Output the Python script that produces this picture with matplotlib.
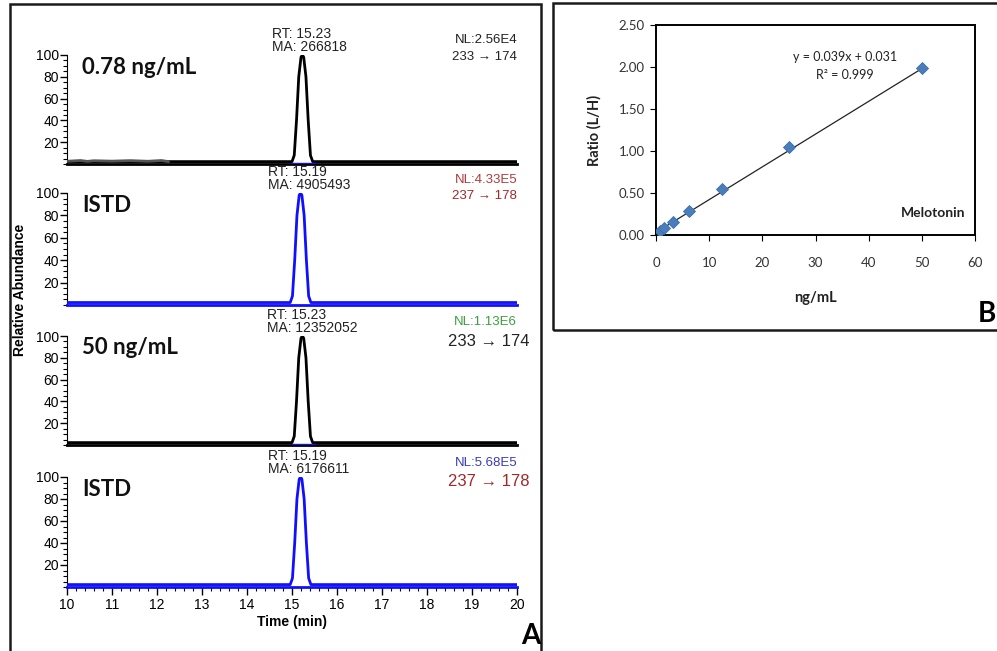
"""Melatonin LC-MS/MS chromatograms (A) and calibration curve (B)."""
import matplotlib.pyplot as plt
from matplotlib.ticker import MultipleLocator, FormatStrFormatter
from matplotlib.patches import Rectangle

W, H = 997, 651

# --- panel A: traces (time in min, relative abundance in %) ---
t_noise = [10.0, 10.3, 10.45, 10.6, 11.0, 11.4, 11.8, 12.1, 12.25]
y_noise = [2.5, 3.2, 2.4, 3.0, 2.6, 3.1, 2.5, 3.2, 2.2]

t_peak_233 = [10.0, 15.00, 15.05, 15.10, 15.15, 15.20, 15.23, 15.26, 15.31, 15.36, 15.41, 15.46, 20.0]
y_peak_233 = [2.2, 2.2, 8, 40, 80, 98, 100, 98, 80, 40, 8, 2.2, 2.2]

t_peak_237 = [10.0, 14.96, 15.01, 15.06, 15.11, 15.16, 15.19, 15.22, 15.27, 15.32, 15.37, 15.42, 20.0]
y_peak_237 = [2.2, 2.2, 8, 40, 80, 98, 100, 98, 80, 40, 8, 2.2, 2.2]

sample_labels = ["0.78 ng/mL", "ISTD", "50 ng/mL", "ISTD"]
rt_labels = ["RT: 15.23\nMA: 266818", "RT: 15.19\nMA: 4905493",
             "RT: 15.23\nMA: 12352052", "RT: 15.19\nMA: 6176611"]
nl_labels = ["NL:2.56E4", "NL:4.33E5", "NL:1.13E6", "NL:5.68E5"]
mrm_labels = ["233 \u2192 174", "237 \u2192 178", "233 \u2192 174", "237 \u2192 178"]

# --- panel B: calibration ---
conc = [0.78, 1.56, 3.125, 6.25, 12.5, 25, 50]
ratio = [0.05, 0.08, 0.15, 0.28, 0.55, 1.05, 1.99]
slope, intercept = 0.039, 0.031

ARIAL = ["Liberation Sans", "DejaVu Sans"]
CALIBRI = ["Lato", "DejaVu Sans"]

fig = plt.figure(figsize=(W / 100, H / 100), dpi=100)
fig.patch.set_facecolor("white")


def fx(px):
    return px / W


def fy(py):
    return 1 - py / H


# (bottom px, top px) of each chromatogram axes
rows = [(164, 55), (305, 193), (445, 336), (587, 477)]
rt_x = [272, 268, 267, 268]
nl_y = [(40, 57, 9.5), (180, 196, 9.5), (322, 342, 12), (463, 482, 12)]
nl_colors = ["#222222", "#b03a3a", "#3ca03c", "#3a3ab8"]
mrm_colors = ["#222222", "#a02828", "#222222", "#a02828"]
trace_colors = ["black", "#1010ff", "black", "#1010ff"]

left, right = 67, 517
axes = []
for i, (b, t) in enumerate(rows):
    ax = fig.add_axes([fx(left), fy(b), fx(right - left), (b - t) / H])
    axes.append(ax)
    if i % 2 == 0:
        ax.plot(t_peak_233, y_peak_233, color="black", lw=2, zorder=3)
        ax.plot([15.0, 15.5], [0.8, 0.8], color="#1010ff", lw=1, zorder=4)
    else:
        ax.plot(t_peak_237, y_peak_237, color="#1010ff", lw=2, zorder=3)
    if i == 0:
        ax.plot(t_noise, y_noise, color="#555555", lw=2, zorder=4)
    ax.set_xlim(10, 20)
    ax.set_ylim(0, 100)
    for s in ["top", "right"]:
        ax.spines[s].set_visible(False)
    ax.spines["bottom"].set_color(trace_colors[i])
    ax.spines["bottom"].set_linewidth(2)
    ax.set_yticks([20, 40, 60, 80, 100])
    ax.yaxis.set_minor_locator(MultipleLocator(5))
    ax.tick_params(axis="y", which="major", direction="out", length=5, width=1,
                   labelsize=10, pad=1)
    ax.tick_params(axis="y", which="minor", direction="out", length=3, width=0.8)
    for lab in ax.get_yticklabels():
        lab.set_family(ARIAL)
    if i < 3:
        ax.tick_params(axis="x", which="both", bottom=False, labelbottom=False)
    else:
        ax.set_xticks(range(10, 21))
        ax.xaxis.set_minor_locator(MultipleLocator(0.2))
        ax.tick_params(axis="x", which="major", direction="out", length=6, width=1,
                       labelsize=10, pad=2)
        ax.tick_params(axis="x", which="minor", direction="out", length=3, width=0.8)
        for lab in ax.get_xticklabels():
            lab.set_family(ARIAL)
        ax.set_xlabel("Time (min)", fontsize=10, fontweight="bold", family=ARIAL,
                      labelpad=2)

    fig.text(fx(rt_x[i]), fy(t - 1), rt_labels[i], ha="left", va="bottom",
             fontsize=10, family=ARIAL, color="#222222", linespacing=0.95)
    ny, my, msize = nl_y[i]
    fig.text(fx(right), fy(ny), nl_labels[i], ha="right", va="center",
             fontsize=9.5, family=ARIAL, color=nl_colors[i])
    fig.text(fx(right + (12 if msize > 10 else 0)), fy(my), mrm_labels[i],
             ha="right", va="center", fontsize=msize, family=ARIAL,
             color=mrm_colors[i])
    fig.text(fx(82), fy(t + 12), sample_labels[i], ha="left", va="center",
             fontsize=16, fontweight="bold", family=CALIBRI, color="#111111")

fig.text(fx(20), fy(290), "Relative Abundance", rotation=90, ha="center",
         va="center", fontsize=10, fontweight="bold", family=ARIAL)
fig.text(fx(531), fy(636), "A", ha="center", va="center", fontsize=20,
         fontweight="bold", family=CALIBRI)

# --- panel B ---
axb = fig.add_axes([fx(656), fy(235), fx(975 - 656), (235 - 25) / H])
axb.plot([conc[0], conc[-1]], [slope * conc[0] + intercept, slope * conc[-1] + intercept],
         color="#222222", lw=0.9, zorder=2)
axb.plot(conc, ratio, linestyle="none", marker="D", ms=6.5, color="#4a7ebb",
         markeredgecolor="#3d6da8", markeredgewidth=0.6, zorder=3)
axb.set_xlim(0, 60)
axb.set_ylim(0, 2.5)
axb.set_xticks(range(0, 61, 10))
axb.set_yticks([0, 0.5, 1.0, 1.5, 2.0, 2.5])
axb.yaxis.set_major_formatter(FormatStrFormatter("%.2f"))
for s in axb.spines.values():
    s.set_linewidth(1.4)
    s.set_color("black")
axb.tick_params(axis="x", direction="out", length=4, width=0.8, pad=12,
                labelsize=9.5, labelcolor="#333333")
axb.tick_params(axis="y", direction="out", length=4, width=0.8, pad=4,
                labelsize=9.5, labelcolor="#333333")
for lab in axb.get_xticklabels() + axb.get_yticklabels():
    lab.set_family(CALIBRI)
axb.set_xlabel("ng/mL", fontsize=10.5, fontweight="bold", family=CALIBRI,
               labelpad=16, color="#222222")
axb.set_ylabel("Ratio (L/H)", fontsize=10.5, fontweight="bold", family=CALIBRI,
               labelpad=12, color="#222222")
fig.text(fx(845), fy(57), f"y = {slope:.3f}x + {intercept:.3f}", ha="center",
         va="center", fontsize=9, family=CALIBRI, color="#222222")
fig.text(fx(845), fy(75), "R\u00b2 = 0.999", ha="center", va="center",
         fontsize=9, family=CALIBRI, color="#222222")
fig.text(fx(965), fy(213), "Melotonin", ha="right", va="center", fontsize=10,
         fontweight="bold", family=CALIBRI, color="#222222")
fig.text(fx(996), fy(314), "B", ha="right", va="center", fontsize=20,
         fontweight="bold", family=CALIBRI)

# panel frames
fig.add_artist(Rectangle((fx(10), fy(660)), fx(541 - 10), (660 - 4) / H,
                         transform=fig.transFigure, fill=False, lw=1.8,
                         ec="#1a1a1a"))
fig.add_artist(Rectangle((fx(553), fy(330)), fx(1010 - 553), (330 - 3) / H,
                         transform=fig.transFigure, fill=False, lw=1.8,
                         ec="#1a1a1a"))

fig.savefig("out.png", dpi=100)
